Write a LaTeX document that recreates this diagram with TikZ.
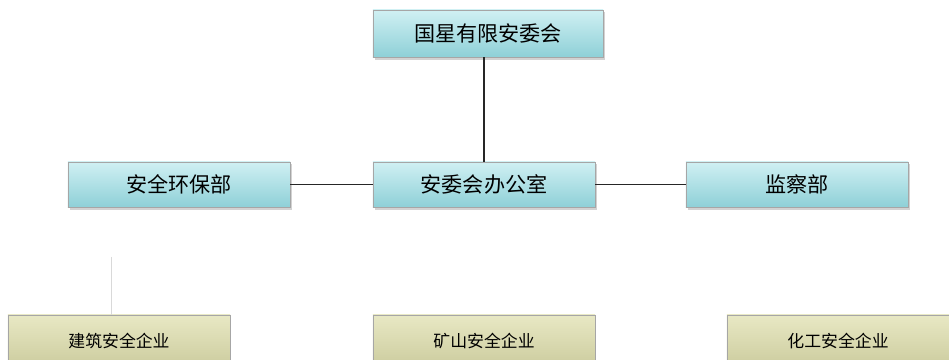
\documentclass[tikz,border=0pt]{standalone}
\usepackage{fontspec}
\usepackage{tikz}
\usepackage{xcolor}
\usetikzlibrary{positioning,shadows}
\newfontfamily\cjk{Noto Sans CJK SC}

\definecolor{boxtop}{RGB}{208,240,243}
\definecolor{boxbot}{RGB}{142,208,215}
\definecolor{unittop}{RGB}{232,232,196}
\definecolor{unitbot}{RGB}{204,204,158}

\begin{document}
\begin{tikzpicture}[
    x=0.025cm, y=-0.025cm,
    dept/.style={rectangle, draw=gray!70, top color=boxtop, bottom color=boxbot, drop shadow={opacity=0.35, shadow xshift=0.6mm, shadow yshift=-0.6mm}, minimum width=5.55cm, minimum height=1.13cm, align=center, font=\cjk\fontsize{15}{17}\selectfont},
    unit/.style={rectangle, draw=gray!70, top color=unittop, bottom color=unitbot, minimum width=5.55cm, minimum height=1.3cm, align=center, font=\cjk\fontsize{12}{14}\selectfont},
    link/.style={thick, black!85},
    faint/.style={gray!30, thin}
]
\clip (0,0) rectangle (949,360);
\fill[white] (0,0) rectangle (949,360);

\node[dept, minimum width=5.75cm, minimum height=1.18cm] (committee) at (488,33.5) {国星有限安委会};

% second level
\node[dept] (safety) at (179,184.5) {安全环保部};
\node[dept] (office) at (484,184.5) {安委会办公室};
\node[dept] (inspect) at (797,184.5) {监察部};

% enterprises, cut off at the bottom
\node[unit] (build) at (119,341) {建筑安全企业};
\node[unit] (mine) at (484,341) {矿山安全企业};
\node[unit] (chem) at (838,341) {化工安全企业};

\coordinate (drop) at (111,257);

\draw[link] (office.north) -- (office.north |- committee.south);
\draw[link] (safety) -- (office);
\draw[link] (office) -- (inspect);
\draw[faint] (drop) -- (drop |- build.north);
\end{tikzpicture}
\end{document}
